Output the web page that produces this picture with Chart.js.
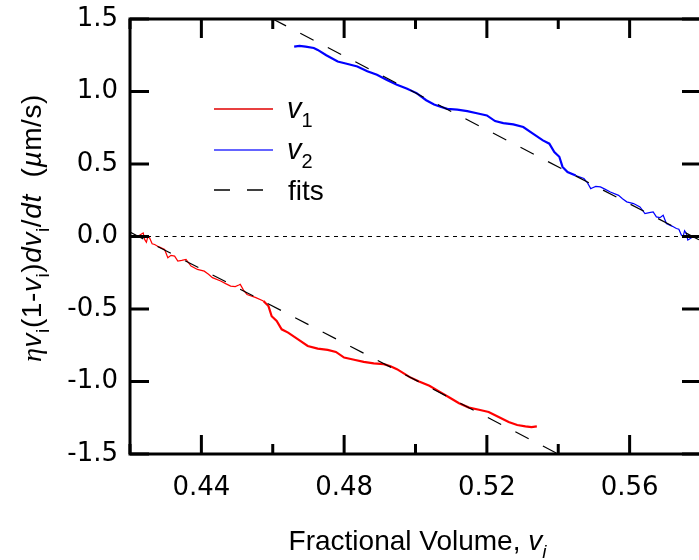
<!DOCTYPE html>
<html>
<head>
<meta charset="utf-8">
<script src="https://cdn.jsdelivr.net/npm/chart.js@4.4.1/dist/chart.umd.min.js"></script>
<style>
html, body { margin: 0; padding: 0; background: #fff; overflow: hidden; }
canvas { display: block; }
</style>
</head>
<body>
<canvas id="chart" width="720" height="560"></canvas>
<script>
// v1 (red)
const v1X = [0.4222, 0.4228, 0.4237, 0.4241, 0.4246, 0.4250, 0.4255, 0.4262, 0.4269, 0.4280,
  0.4297, 0.4306, 0.4315, 0.4325, 0.4334, 0.4345, 0.4357, 0.4371, 0.4389, 0.4408,
  0.4420, 0.4431, 0.4454, 0.4468, 0.4482, 0.4495, 0.4505, 0.4509, 0.4518, 0.4528,
  0.4551, 0.4574, 0.4588, 0.4597, 0.4611, 0.4625, 0.4643, 0.4671, 0.4698, 0.4726,
  0.4754, 0.4777, 0.4800, 0.4828, 0.4855, 0.4883, 0.4911, 0.4930, 0.4948, 0.4984,
  0.5010, 0.5039, 0.5067, 0.5095, 0.5122, 0.5150, 0.5178, 0.5205, 0.5233, 0.5261,
  0.5285, 0.5308, 0.5325, 0.5340];
const v1Y = [0.00, 0.01, 0.025, -0.02, -0.04, 0.00, -0.01, -0.05, -0.055, -0.07,
  -0.09, -0.147, -0.13, -0.135, -0.17, -0.165, -0.158, -0.204, -0.227, -0.239,
  -0.26, -0.284, -0.307, -0.325, -0.342, -0.345, -0.335, -0.33, -0.37, -0.40,
  -0.42, -0.445, -0.48, -0.55, -0.583, -0.64, -0.663, -0.709, -0.755, -0.773,
  -0.782, -0.796, -0.835, -0.85, -0.865, -0.875, -0.88, -0.895, -0.915, -0.97,
  -1.00, -1.03, -1.07, -1.11, -1.15, -1.18, -1.195, -1.21, -1.245, -1.28,
  -1.30, -1.31, -1.315, -1.31];

// v2 (blue)
const v2X = [0.4660, 0.4675, 0.4692, 0.4715, 0.4726, 0.4750, 0.4782, 0.4810, 0.4837, 0.4865,
  0.4892, 0.4920, 0.4948, 0.4975, 0.5003, 0.5030, 0.5052, 0.5070, 0.5089, 0.5117,
  0.5145, 0.5172, 0.5200, 0.5223, 0.5246, 0.5274, 0.5302, 0.5329, 0.5357, 0.5375,
  0.5389, 0.5403, 0.5412, 0.5426, 0.5449, 0.5472, 0.5482, 0.5491, 0.5495, 0.5505,
  0.5518, 0.5532, 0.5546, 0.5569, 0.5580, 0.5592, 0.5611, 0.5629, 0.5643, 0.5655,
  0.5666, 0.5675, 0.5685, 0.5694, 0.5703, 0.5720, 0.5731, 0.5738, 0.5745, 0.5750,
  0.5754, 0.5759, 0.5763, 0.5772, 0.5778];
const v2Y = [1.31, 1.315, 1.31, 1.30, 1.287, 1.25, 1.207, 1.19, 1.172, 1.14,
  1.115, 1.08, 1.046, 1.02, 0.989, 0.94, 0.91, 0.895, 0.88, 0.875,
  0.865, 0.85, 0.835, 0.796, 0.782, 0.773, 0.755, 0.709, 0.663, 0.64,
  0.583, 0.55, 0.48, 0.445, 0.42, 0.40, 0.37, 0.33, 0.335, 0.345,
  0.342, 0.325, 0.307, 0.284, 0.26, 0.239, 0.227, 0.204, 0.158, 0.165,
  0.17, 0.135, 0.13, 0.147, 0.09, 0.07, 0.055, 0.05, 0.01, 0.00,
  0.04, 0.02, -0.025, -0.01, 0.00];

// linear fits
const fit1X = [0.42, 0.54];
const fit1Y = [0.03, -1.5];
const fit2X = [0.46, 0.58];
const fit2Y = [1.5, -0.03];
const zeroX = [0.42, 0.58];
const zeroY = [0, 0];

const xTickValues = [0.42, 0.44, 0.46, 0.48, 0.50, 0.52, 0.54, 0.56, 0.58];
const xTickLabels = ['', '0.44', '', '0.48', '', '0.52', '', '0.56', ''];
const yTickValues = [-1.5, -1.0, -0.5, 0, 0.5, 1.0, 1.5];
const yTickLabels = ['-1.5', '-1.0', '-0.5', '0.0', '0.5', '1.0', '1.5'];

const pts = (xs, ys) => xs.map((x, i) => ({ x: x, y: ys[i] }));

const TITLE_FONT = '"Liberation Sans", Arial, sans-serif';

function font(size, italic, family) {
  return (italic ? 'italic ' : '') + size + 'px ' + (family || TITLE_FONT);
}

// draws a run of text parts, some italic or subscript, centred on x
function drawRich(ctx, parts, x, y, size, align) {
  const subSize = Math.round(size * 0.68);
  let total = 0;
  parts.forEach(p => {
    ctx.font = font(p.sub ? subSize : size, p.it, p.fam);
    total += ctx.measureText(p.t).width;
  });
  let cx = align === 'left' ? x : x - total / 2;
  ctx.textBaseline = 'alphabetic';
  ctx.textAlign = 'left';
  parts.forEach(p => {
    ctx.font = font(p.sub ? subSize : size, p.it, p.fam);
    ctx.fillText(p.t, cx, p.sub ? y + size * 0.3 : y);
    cx += ctx.measureText(p.t).width;
  });
}

const frame = {
  id: 'frame',
  afterDraw(chart) {
    const ctx = chart.ctx;
    const a = chart.chartArea;
    const xs = chart.scales.x;
    const ys = chart.scales.y;
    ctx.save();
    ctx.strokeStyle = '#000';
    ctx.lineWidth = 3;
    ctx.lineCap = 'butt';
    ctx.strokeRect(a.left, a.top, a.right - a.left, a.bottom - a.top);
    ctx.beginPath();
    xTickValues.forEach((v, i) => {
      const px = xs.getPixelForValue(v);
      const len = xTickLabels[i] ? 19 : 10;
      ctx.moveTo(px, a.bottom); ctx.lineTo(px, a.bottom - len);
      ctx.moveTo(px, a.top); ctx.lineTo(px, a.top + len);
    });
    yTickValues.forEach(v => {
      const py = ys.getPixelForValue(v);
      ctx.moveTo(a.left, py); ctx.lineTo(a.left + 19, py);
      ctx.moveTo(a.right, py); ctx.lineTo(a.right - 19, py);
    });
    ctx.stroke();

    ctx.fillStyle = '#000';
    // x title
    drawRich(ctx, [
      { t: 'Fractional Volume, ' },
      { t: 'v', it: true },
      { t: 'i', it: true, sub: true }
    ], (a.left + a.right) / 2 + 2, 550, 28);

    // y title, rotated
    ctx.save();
    ctx.translate(41, 228);
    ctx.rotate(-Math.PI / 2);
    ctx.letterSpacing = '0.6px';
    drawRich(ctx, [
      { t: 'η', it: true, fam: '"Liberation Serif", serif' },
      { t: 'v', it: true },
      { t: 'i', sub: true },
      { t: '(1-' },
      { t: 'v', it: true },
      { t: 'i', sub: true },
      { t: ')' },
      { t: 'dv', it: true },
      { t: 'i', sub: true },
      { t: '/' },
      { t: 'dt', it: true },
      { t: '  (' },
      { t: 'µ', it: true },
      { t: 'm/s)' }
    ], 0, 0, 28);
    ctx.restore();

    // legend
    const lx = a.left + 84;
    const rows = [
      { y: 109, color: '#e00000', dash: [], label: '1' },
      { y: 150, color: '#3030ff', dash: [], label: '2' },
      { y: 190, color: '#000', dash: [16, 17], label: null }
    ];
    rows.forEach(r => {
      ctx.beginPath();
      ctx.strokeStyle = r.color;
      ctx.lineWidth = 1.5;
      ctx.setLineDash(r.dash);
      ctx.moveTo(lx, r.y);
      ctx.lineTo(lx + 59, r.y);
      ctx.stroke();
      ctx.setLineDash([]);
      if (r.label) {
        drawRich(ctx, [{ t: 'v', it: true }, { t: r.label, sub: true }], lx + 73, r.y + 9, 29, 'left');
      } else {
        drawRich(ctx, [{ t: 'fits' }], lx + 74, r.y + 10, 28, 'left');
      }
    });
    ctx.restore();
  }
};

new Chart(document.getElementById('chart'), {
  type: 'line',
  plugins: [frame],
  data: {
    datasets: [
      { label: 'fit v1', data: pts(fit1X, fit1Y), borderColor: '#000', borderWidth: 1.2, borderDash: [15, 16], order: 0 },
      { label: 'fit v2', data: pts(fit2X, fit2Y), borderColor: '#000', borderWidth: 1.2, borderDash: [15, 16], order: 0 },
      { label: 'zero', data: pts(zeroX, zeroY), borderColor: '#000', borderWidth: 1, borderDash: [4, 4.5], order: 2 },
      {
        label: 'v1', data: pts(v1X, v1Y), borderColor: '#ff0000', order: 1,
        segment: { borderWidth: c => (c.p0.parsed.x < 0.4555 ? 1.2 : 2.2) }
      },
      {
        label: 'v2', data: pts(v2X, v2Y), borderColor: '#0000ff', order: 1,
        segment: { borderWidth: c => (c.p0.parsed.x > 0.5445 ? 1.2 : 2.2) }
      }
    ]
  },
  options: {
    responsive: false,
    animation: false,
    events: [],
    elements: { point: { radius: 0 }, line: { tension: 0, fill: false } },
    layout: { padding: { left: 0, top: 19, right: 13, bottom: 0 } },
    plugins: { legend: { display: false }, tooltip: { enabled: false } },
    scales: {
      x: {
        type: 'linear',
        min: 0.42,
        max: 0.58,
        afterBuildTicks: s => { s.ticks = xTickValues.map(v => ({ value: v })); },
        afterFit: s => { s.height = 106; },
        grid: { display: false, drawTicks: false },
        border: { display: false },
        ticks: {
          autoSkip: false,
          maxRotation: 0,
          padding: 19,
          color: '#000',
          font: { family: '"DejaVu Sans", sans-serif', size: 26 },
          callback: (v, i) => xTickLabels[i]
        }
      },
      y: {
        type: 'linear',
        min: -1.5,
        max: 1.5,
        afterBuildTicks: s => { s.ticks = yTickValues.map(v => ({ value: v })); },
        afterFit: s => { s.width = 130; },
        grid: { display: false, drawTicks: false },
        border: { display: false },
        ticks: {
          autoSkip: false,
          padding: 12,
          color: '#000',
          font: { family: '"DejaVu Sans", sans-serif', size: 26, lineHeight: 0.4 },
          callback: (v, i) => yTickLabels[i]
        }
      }
    }
  }
});
</script>
</body>
</html>
